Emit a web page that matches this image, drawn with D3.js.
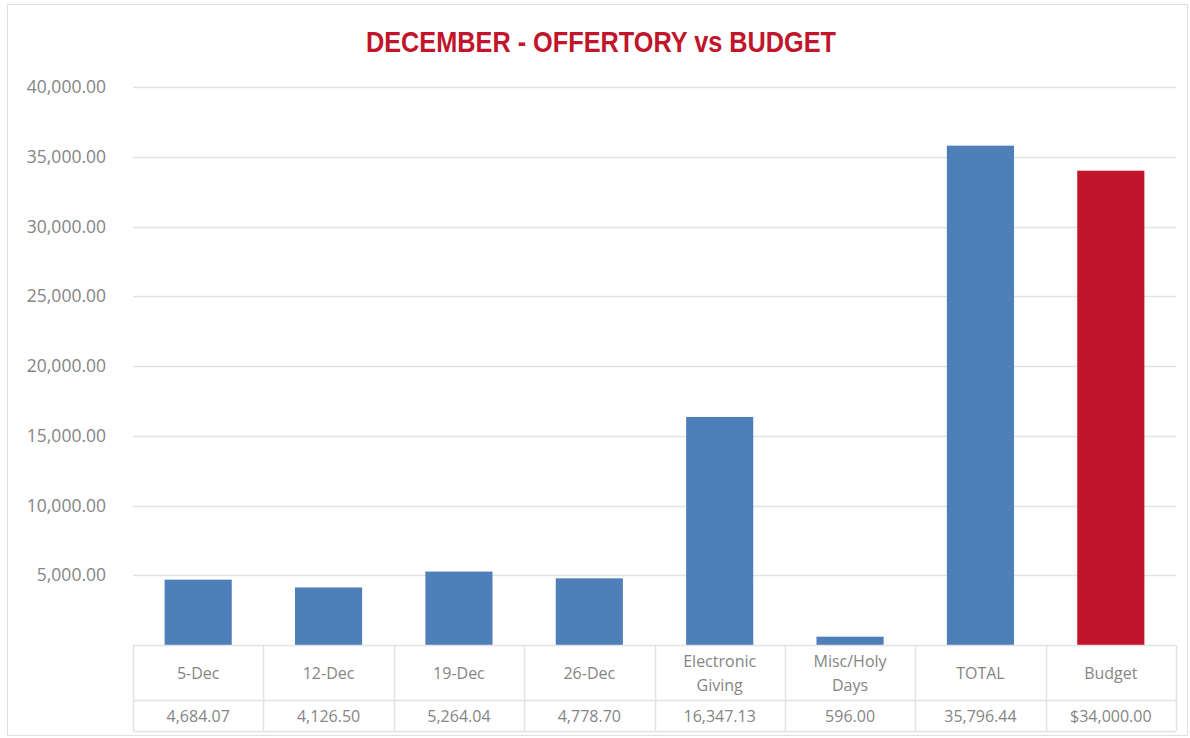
<!DOCTYPE html>
<html lang="en">
<head>
<meta charset="UTF-8">
<title>December - Offertory vs Budget</title>
<script src="https://d3js.org/d3.v7.min.js"></script>
<style>
  body { margin: 0; background: #fff; }
  svg { display: block; }
</style>
</head>
<body>
<svg width="1190" height="738"></svg>
<script>
// chart data
const categories = ["5-Dec", "12-Dec", "19-Dec", "26-Dec", "Electronic Giving", "Misc/Holy Days", "TOTAL", "Budget"];
const labelLines = [["5-Dec"], ["12-Dec"], ["19-Dec"], ["26-Dec"], ["Electronic", "Giving"], ["Misc/Holy", "Days"], ["TOTAL"], ["Budget"]];
const values = [4684.07, 4126.50, 5264.04, 4778.70, 16347.13, 596.00, 35796.44, 34000.00];
const valueLabels = ["4,684.07", "4,126.50", "5,264.04", "4,778.70", "16,347.13", "596.00", "35,796.44", "$34,000.00"];
const yTicks = [5000, 10000, 15000, 20000, 25000, 30000, 35000, 40000];

const svg = d3.select("svg");
const margin = { top: 87, left: 133, right: 14, bottom: 93 };
const width = 1190 - margin.left - margin.right,
      height = 738 - margin.top - margin.bottom;
const gray = "#858585", lineCol = "#e3e3e3";
const font = "'Open Sans', sans-serif";

// outer chart border
svg.append("rect")
  .attr("x", 7.5).attr("y", 4.5).attr("width", 1180).attr("height", 731)
  .attr("fill", "#fff").attr("stroke", "#e0e0e0");

svg.append("text")
  .attr("x", 601).attr("y", 52)
  .attr("text-anchor", "middle")
  .attr("font-family", "'Liberation Sans Narrow', 'Liberation Sans', sans-serif")
  .attr("font-weight", "bold")
  .attr("font-size", 30)
  .attr("textLength", 470)
  .attr("lengthAdjust", "spacingAndGlyphs")
  .attr("fill", "#c0152a")
  .text("DECEMBER - OFFERTORY vs BUDGET");

const g = svg.append("g").attr("transform", `translate(${margin.left},${margin.top})`);

const x = d3.scaleBand().domain(categories).range([0, width]).paddingInner(0.485).paddingOuter(0.2425);
const band = d3.scaleBand().domain(categories).range([0, width]);
const y = d3.scaleLinear().domain([0, 40000]).range([height, 0]);

// gridlines
g.append("g")
  .selectAll("line").data(yTicks).join("line")
  .attr("x1", 0).attr("x2", width)
  .attr("y1", d => Math.round(y(d)) + 0.5).attr("y2", d => Math.round(y(d)) + 0.5)
  .attr("stroke", lineCol).attr("stroke-width", 1.3);

// y axis labels
const yAxis = g.append("g")
  .attr("transform", "translate(-24,0)")
  .call(d3.axisLeft(y).tickValues(yTicks).tickSize(0).tickFormat(d3.format(",.2f")));
yAxis.select(".domain").remove();
yAxis.selectAll("text")
  .attr("font-family", font).attr("font-size", 17.5).attr("fill", gray);

// bars
g.selectAll(".bar").data(values).join("rect")
  .attr("class", "bar")
  .attr("x", (d, i) => x(categories[i]))
  .attr("width", x.bandwidth())
  .attr("y", d => y(d))
  .attr("height", d => height - y(d))
  .attr("fill", (d, i) => categories[i] === "Budget" ? "#c0152a" : "#4f7fb8");

// data table
const row1 = 55, row2 = 31;
const table = g.append("g").attr("transform", `translate(0,${height})`);
[0, row1, row1 + row2].forEach(yy => {
  table.append("line").attr("x1", 0).attr("x2", width)
    .attr("y1", yy + 0.5).attr("y2", yy + 0.5)
    .attr("stroke", lineCol).attr("stroke-width", 1.5);
});
table.selectAll(".vline").data(d3.range(categories.length + 1)).join("line")
  .attr("class", "vline")
  .attr("x1", i => Math.round(i * band.step()) + 0.5)
  .attr("x2", i => Math.round(i * band.step()) + 0.5)
  .attr("y1", 0).attr("y2", row1 + row2)
  .attr("stroke", lineCol).attr("stroke-width", 1.5);

categories.forEach((c, i) => {
  const cx = band(c) + band.bandwidth() / 2;
  const lines = labelLines[i];
  const t = table.append("text")
    .attr("x", cx)
    .attr("text-anchor", "middle")
    .attr("font-family", font).attr("font-size", 16).attr("fill", gray);
  lines.forEach((ln, k) => {
    t.append("tspan")
      .attr("x", cx)
      .attr("y", row1 / 2 + 6 + (k - (lines.length - 1) / 2) * 24)
      .text(ln);
  });
  table.append("text")
    .attr("x", cx).attr("y", row1 + row2 / 2 + 6)
    .attr("text-anchor", "middle")
    .attr("font-family", font).attr("font-size", 16).attr("fill", gray)
    .text(valueLabels[i]);
});
</script>
</body>
</html>
